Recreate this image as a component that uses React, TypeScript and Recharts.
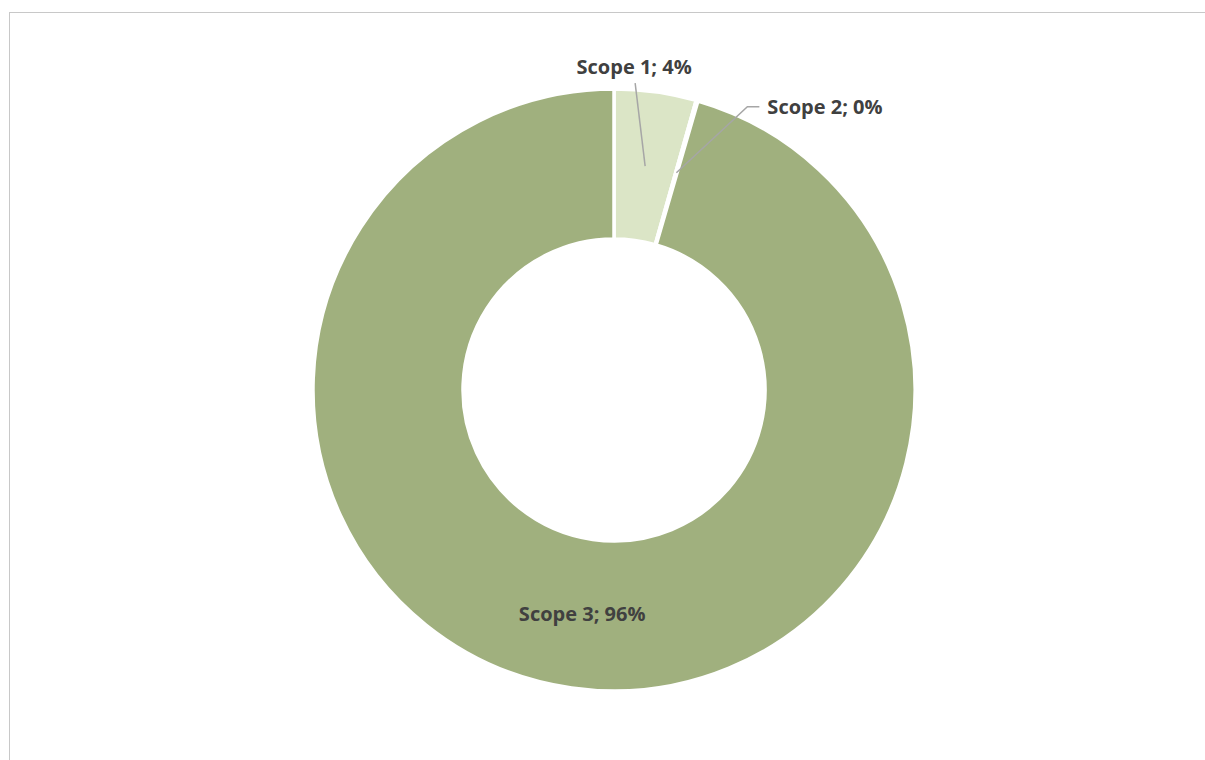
import React from 'react';
import { PieChart, Pie, Cell } from 'recharts';

const categories = ['Scope 1', 'Scope 2', 'Scope 3'];
const values = [4.4, 0.1, 95.5];
const labelTexts = ['Scope 1; 4%', 'Scope 2; 0%', 'Scope 3; 96%'];
const colors = ['#dbe5c6', '#dbe5c6', '#a0b07e'];

const data = categories.map((name, i) => ({ name, value: values[i] }));

const RAD = Math.PI / 180;
const FONT = '"Open Sans", Lato, sans-serif';
const TEXT_COLOR = '#404040';
const LINE_COLOR = '#a6a6a6';

const renderLabel = (props: any) => {
  const { cx, cy, midAngle, innerRadius, outerRadius, index } = props;
  const r = (innerRadius + outerRadius) / 2;
  const ax = cx + r * Math.cos(-midAngle * RAD);
  const ay = cy + r * Math.sin(-midAngle * RAD);
  const common = {
    fontFamily: FONT,
    fontWeight: 700,
    fontSize: 20,
    fill: TEXT_COLOR,
    dominantBaseline: 'central' as const,
  };
  if (index === 0) {
    return (
      <g key="l0">
        <line x1={ax} y1={ay} x2={ax - 10} y2={ay - 83} stroke={LINE_COLOR} strokeWidth={1.5} />
        <text x={ax - 11} y={ay - 100} textAnchor="middle" {...common}>{labelTexts[0]}</text>
      </g>
    );
  }
  if (index === 1) {
    return (
      <g key="l1">
        <polyline
          points={`${ax},${ay} ${ax + 71},${ay - 66} ${ax + 83},${ay - 66}`}
          fill="none"
          stroke={LINE_COLOR}
          strokeWidth={1.5}
        />
        <text x={ax + 91} y={ay - 66} textAnchor="start" {...common}>{labelTexts[1]}</text>
      </g>
    );
  }
  return (
    <text key="l2" x={ax} y={ay} textAnchor="middle" {...common}>{labelTexts[2]}</text>
  );
};

export default function App() {
  return (
    <div style={{ position: 'fixed', left: 0, top: 0, width: 1205, height: 760, overflow: 'hidden', background: '#fff' }}>
      <div
        style={{
          position: 'absolute',
          left: 9,
          top: 12,
          width: 1400,
          height: 900,
          border: '1.5px solid #c8c8c8',
          boxSizing: 'border-box',
        }}
      />
      <div style={{ position: 'absolute', left: 0, top: 0 }}>
        <PieChart width={1205} height={760} margin={{ top: 0, right: 0, bottom: 0, left: 0 }}>
          <Pie
            data={data}
            dataKey="value"
            nameKey="name"
            cx={614}
            cy={390}
            innerRadius={151}
            outerRadius={301}
            startAngle={90}
            endAngle={-270}
            stroke="#ffffff"
            strokeWidth={3.5}
            isAnimationActive={false}
            labelLine={false}
            label={renderLabel}
          >
            {data.map((d, i) => (
              <Cell key={d.name} fill={colors[i]} />
            ))}
          </Pie>
        </PieChart>
      </div>
    </div>
  );
}
